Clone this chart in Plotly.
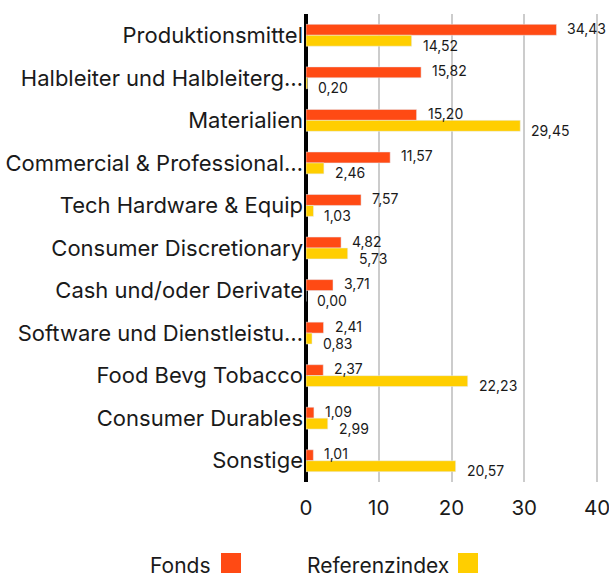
import plotly.graph_objects as go

categories = [
    "Produktionsmittel",
    "Halbleiter und Halbleiterg…",
    "Materialien",
    "Commercial & Professional…",
    "Tech Hardware & Equip",
    "Consumer Discretionary",
    "Cash und/oder Derivate",
    "Software und Dienstleistu…",
    "Food Bevg Tobacco",
    "Consumer Durables",
    "Sonstige",
]
fonds = [34.43, 15.82, 15.20, 11.57, 7.57, 4.82, 3.71, 2.41, 2.37, 1.09, 1.01]
referenz = [14.52, 0.20, 29.45, 2.46, 1.03, 5.73, 0.00, 0.83, 22.23, 2.99, 20.57]
series_names = ["Fonds", "Referenzindex"]
tick_values = [0, 10, 20, 30, 40]

ORANGE = "#ff4a14"
YELLOW = "#ffce00"
FONT = "Inter"
TEXT = "#1a1a1a"

def fmt(v):
    return f"{v:.2f}".replace(".", ",")

fig = go.Figure()
fig.add_trace(go.Bar(y=categories, x=fonds, orientation="h", name=series_names[0],
                     marker_color=ORANGE, showlegend=False, hoverinfo="skip"))
fig.add_trace(go.Bar(y=categories, x=referenz, orientation="h", name=series_names[1],
                     marker_color=YELLOW, showlegend=False, hoverinfo="skip"))

annotations = []
for c, f, r in zip(categories, fonds, referenz):
    annotations.append(dict(x=f, y=c, xref="x", yref="y", text=fmt(f), showarrow=False,
                            xanchor="left", yanchor="middle", xshift=9, yshift=7,
                            font=dict(family=FONT, size=14, color=TEXT)))
    annotations.append(dict(x=r, y=c, xref="x", yref="y", text=fmt(r), showarrow=False,
                            xanchor="left", yanchor="middle", xshift=9, yshift=-10,
                            font=dict(family=FONT, size=14, color=TEXT)))

# legend (text then swatch, as in the reference); paper coords for a 295px-wide plot area
PW = 295.0
PH = 468.0
def px_x(p):
    return (p - 306) / PW
def px_y(p):
    return (482 - p) / PH

annotations.append(dict(x=px_x(213), y=px_y(565), xref="paper", yref="paper", text=series_names[0],
                        showarrow=False, xanchor="right", yanchor="middle",
                        font=dict(family=FONT, size=21, color=TEXT)))
annotations.append(dict(x=px_x(451), y=px_y(565), xref="paper", yref="paper", text=series_names[1],
                        showarrow=False, xanchor="right", yanchor="middle",
                        font=dict(family=FONT, size=21, color=TEXT)))
shapes = [
    dict(type="rect", xref="paper", yref="paper", x0=px_x(221), x1=px_x(241), y0=px_y(573), y1=px_y(553),
         fillcolor=ORANGE, line=dict(width=0)),
    dict(type="rect", xref="paper", yref="paper", x0=px_x(458), x1=px_x(478), y0=px_y(573), y1=px_y(553),
         fillcolor=YELLOW, line=dict(width=0)),
]

fig.update_layout(
    width=609, height=579, autosize=False,
    margin=dict(l=306, r=8, t=14, b=97),
    paper_bgcolor="white", plot_bgcolor="white",
    barmode="group", bargap=0.486, bargroupgap=0,
    font=dict(family=FONT, color=TEXT),
    annotations=annotations, shapes=shapes,
    showlegend=False,
)
fig.update_xaxes(range=[0, 40.55], tickvals=tick_values, ticktext=[str(v) for v in tick_values],
                 showgrid=True, gridcolor="#cccccc", gridwidth=2,
                 zeroline=True, zerolinecolor="black", zerolinewidth=4,
                 showline=False, ticks="", automargin=False, ticklabelstandoff=11,
                 ticklabeloverflow="allow",
                 tickfont=dict(family=FONT, size=20.5, color=TEXT))
fig.update_yaxes(autorange="reversed", showgrid=False, showline=False, ticks="", automargin=False,
                 tickfont=dict(family=FONT, size=22, color=TEXT), ticklabelstandoff=2)

fig.write_html("out.html", config={"displayModeBar": False},
               post_script="document.body.style.margin='0';")
